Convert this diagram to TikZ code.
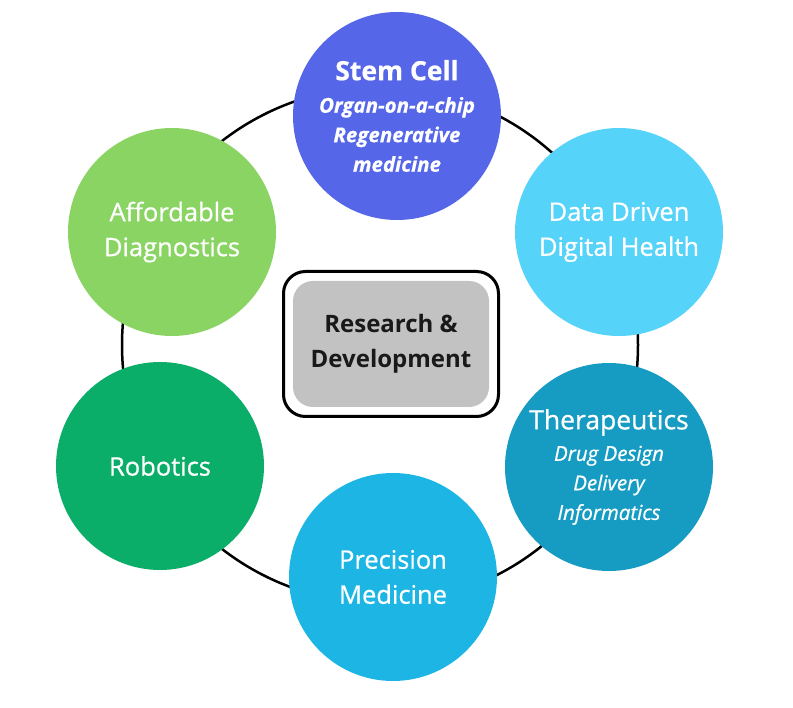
\documentclass[tikz,border=0pt]{standalone}
\usepackage{fontspec}
\setmainfont{Open Sans}
\newfontfamily\medfont{Open Sans}[FakeBold=0.7]
\definecolor{stemblue}{HTML}{5567E8}
\definecolor{datacyan}{HTML}{56D3F9}
\definecolor{therateal}{HTML}{169CC3}
\definecolor{precblue}{HTML}{1DB6E4}
\definecolor{robogreen}{HTML}{0AAE69}
\definecolor{diaggreen}{HTML}{8AD464}
\definecolor{rdgray}{HTML}{C2C2C2}
\begin{document}
\begin{tikzpicture}[x=1pt, y=-1pt,
    bubble/.style={circle, minimum size=208pt, inner sep=0pt, text=white, align=center,
      font=\medfont\fontsize{25.5}{35}\selectfont},
    listbubble/.style={bubble, font=\medfont\fontsize{20.5}{29.5}\selectfont}]
    \useasboundingbox (0,0) rectangle (793,708);
    % ring behind the topics
    \coordinate (hub) at (380,345);
    \draw[line width=2.5pt] (hub) circle[radius=258];
    % centre box
    \node[draw, line width=3pt, rounded corners=22pt, minimum width=215pt, minimum height=145pt] (rdframe) at (391,344) {};
    \node[fill=rdgray, rounded corners=20pt, minimum width=196pt, minimum height=126pt, align=center,
      text=black!90, font=\fontsize{24}{35}\selectfont\bfseries] (rd) at (rdframe.center) {Research \&\\ Development};
    % topics
    \node[listbubble, fill=stemblue] (stem) at (397,116)
      {{\fontsize{26.5}{30}\selectfont\bfseries Stem Cell}\\[3pt] {\bfseries\itshape Organ-on-a-chip}\\ {\bfseries\itshape Regenerative}\\ {\bfseries\itshape medicine}};
    \node[bubble, fill=datacyan] (data) at (619,232) {Data Driven\\ Digital Health};
    \node[listbubble, fill=therateal] (thera) at (609,467)
      {{\fontsize{26.5}{30}\selectfont Therapeutics}\\[2pt] {\itshape Drug Design}\\ {\itshape Delivery}\\ {\itshape Informatics}};
    \node[bubble, fill=precblue] (prec) at (393,577) {Precision\\ Medicine};
    \node[bubble, fill=robogreen] (robo) at (160,466) {Robotics};
    \node[bubble, fill=diaggreen] (diag) at (172,232) {Affordable\\ Diagnostics};
\end{tikzpicture}
\end{document}
